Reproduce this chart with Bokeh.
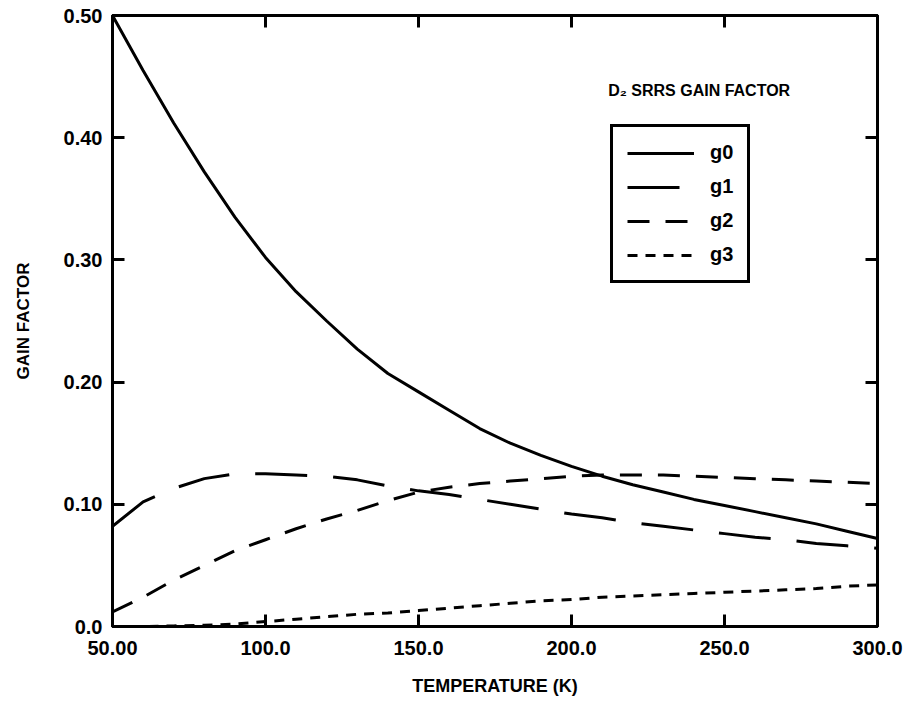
from bokeh.plotting import figure
from bokeh.models import (Range1d, FixedTicker, LinearAxis, Legend, LegendItem, Label)
from bokeh.embed import file_html
from bokeh.resources import INLINE

# Temperature grid (K) and D2 SRRS gain factors
temperature = [50, 60, 70, 80, 90, 100, 110, 120, 130, 140, 150, 160, 170, 180, 190,
               200, 210, 220, 230, 240, 250, 260, 270, 280, 290, 300]
g0 = [0.500, 0.455, 0.412, 0.372, 0.335, 0.302, 0.274, 0.250, 0.227, 0.207, 0.192, 0.177, 0.162,
      0.150, 0.140, 0.131, 0.123, 0.116, 0.110, 0.104, 0.099, 0.094, 0.089, 0.084, 0.078, 0.072]
g1 = [0.082, 0.102, 0.113, 0.121, 0.125, 0.125, 0.124, 0.123, 0.120, 0.115, 0.111, 0.108, 0.104,
      0.100, 0.096, 0.092, 0.089, 0.085, 0.082, 0.079, 0.076, 0.073, 0.071, 0.068, 0.066, 0.064]
g2 = [0.012, 0.024, 0.038, 0.050, 0.062, 0.071, 0.080, 0.088, 0.095, 0.103, 0.110, 0.114, 0.117,
      0.119, 0.121, 0.123, 0.124, 0.124, 0.124, 0.123, 0.122, 0.121, 0.120, 0.119, 0.118, 0.117]
g3 = [0.000, 0.000, 0.0005, 0.001, 0.002, 0.004, 0.006, 0.008, 0.010, 0.011, 0.013, 0.015, 0.017,
      0.019, 0.021, 0.022, 0.024, 0.025, 0.026, 0.027, 0.028, 0.029, 0.030, 0.031, 0.033, 0.034]

x_ticks = [50, 100, 150, 200, 250, 300]
x_tick_labels = ["50.00", "100.0", "150.0", "200.0", "250.0", "300.0"]
y_ticks = [0.0, 0.1, 0.2, 0.3, 0.4, 0.5]
y_tick_labels = ["0.0", "0.10", "0.20", "0.30", "0.40", "0.50"]

FONT = "Liberation Sans"

p = figure(width=915, height=702, output_backend="svg", toolbar_location=None,
           x_range=Range1d(50, 300), y_range=Range1d(0, 0.5),
           min_border_left=112, min_border_right=38, min_border_top=15, min_border_bottom=76,
           background_fill_color="white", border_fill_color="white")
p.grid.visible = False
p.outline_line_color = "black"
p.outline_line_width = 3


def style_axis(ax, ticks, labels, show_labels=True):
    ax.ticker = FixedTicker(ticks=ticks)
    ax.major_tick_in = 12
    ax.major_tick_out = 0
    ax.major_tick_line_width = 3
    ax.major_tick_line_color = "black"
    ax.minor_tick_line_color = None
    ax.axis_line_width = 3
    ax.axis_line_color = "black"
    ax.major_label_text_font = FONT
    ax.major_label_text_font_style = "bold"
    ax.major_label_text_font_size = "20px"
    ax.major_label_text_color = "black"
    if show_labels:
        ax.major_label_overrides = {t: l for t, l in zip(ticks, labels)}
    else:
        # tick marks only on the opposite frame edges
        ax.major_label_overrides = {t: "" for t in ticks}
        ax.major_label_standoff = 0


xa = p.xaxis[0]
style_axis(xa, x_ticks, x_tick_labels)
xa.major_label_standoff = 14
xa.axis_label = "TEMPERATURE (K)"
xa.axis_label_text_font = FONT
xa.axis_label_text_font_style = "bold"
xa.axis_label_text_font_size = "18px"
xa.axis_label_text_color = "black"
xa.axis_label_standoff = 18

ya = p.yaxis[0]
style_axis(ya, y_ticks, y_tick_labels)
ya.major_label_standoff = 10
ya.axis_label = "GAIN FACTOR"
ya.axis_label_text_font = FONT
ya.axis_label_text_font_style = "bold"
ya.axis_label_text_font_size = "17px"
ya.axis_label_text_color = "black"
ya.axis_label_standoff = 28

top = LinearAxis()
style_axis(top, x_ticks, x_tick_labels, show_labels=False)
p.add_layout(top, "above")
right = LinearAxis()
style_axis(right, y_ticks, y_tick_labels, show_labels=False)
p.add_layout(right, "right")

r0 = p.line(temperature, g0, line_color="black", line_width=3)
r1 = p.line(temperature, g1, line_color="black", line_width=3, line_dash="52 26")
r2 = p.line(temperature, g2, line_color="black", line_width=3, line_dash="22 16")
r3 = p.line(temperature, g3, line_color="black", line_width=3, line_dash="10 8")

legend = Legend(items=[LegendItem(label="g0", renderers=[r0]),
                       LegendItem(label="g1", renderers=[r1]),
                       LegendItem(label="g2", renderers=[r2]),
                       LegendItem(label="g3", renderers=[r3])],
                location=(498, 343), orientation="vertical",
                glyph_width=67, glyph_height=20, label_height=20,
                label_standoff=16, spacing=11, padding=14, margin=0,
                border_line_color="black", border_line_width=3, border_line_alpha=1.0,
                background_fill_color="white", background_fill_alpha=1.0,
                label_text_font=FONT, label_text_font_style="bold",
                label_text_font_size="20px", label_text_color="black")
p.add_layout(legend, "center")

title = Label(x=212, y=0.439, text="D\u2082 SRRS GAIN FACTOR", text_font=FONT,
              text_font_style="bold", text_font_size="16px", text_color="black",
              text_baseline="middle", text_align="left")
p.add_layout(title)

open("out.html", "w").write(file_html(p, INLINE))
